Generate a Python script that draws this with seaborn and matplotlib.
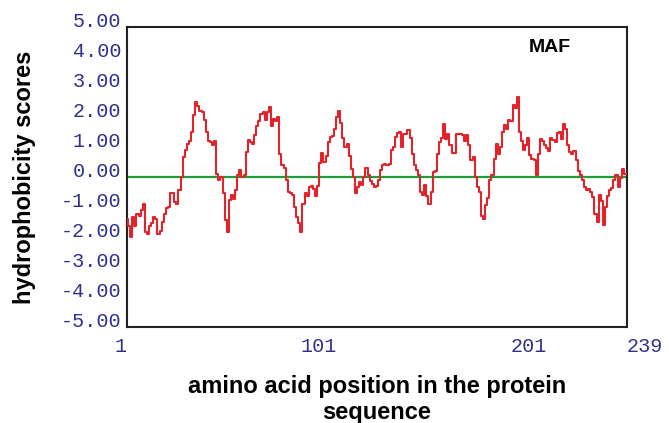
import numpy as np
import pandas as pd
import matplotlib
matplotlib.use("Agg")
import matplotlib.pyplot as plt
import seaborn as sns

# ---- data ----
positions = np.arange(1, 240)
scores = [
    -1.40, -1.65, -2.00, -1.35, -1.65, -1.25, -1.30, -1.10, -0.90, -1.85,
    -1.90, -1.65, -1.55, -1.35, -1.40, -1.90, -1.80, -1.50, -1.25, -1.05,
    -1.00, -0.55, -0.55, -0.85, -0.90, -0.45, 0.00, 0.65, 0.90, 1.10,
    1.20, 1.50, 2.05, 2.50, 2.35, 2.20, 2.15, 1.90, 1.50, 1.20,
    1.15, 1.05, 1.20, 0.10, -0.10, 0.00, -0.55, -1.45, -1.83, -0.78,
    -0.60, -0.72, -0.44, 0.05, 0.22, 0.00, 0.05, 0.83, 1.22, 1.15,
    1.10, 1.40, 1.70, 1.85, 2.10, 2.17, 1.90, 2.15, 2.33, 1.70,
    1.94, 1.85, 2.00, 0.78, 0.39, 0.30, -0.10, -0.50, -0.55, -0.60,
    -1.00, -1.35, -1.55, -1.85, -0.90, -0.55, -0.65, -0.35, -0.30, -0.40,
    -0.65, -0.30, 0.45, 0.80, 0.50, 0.70, 1.17, 1.33, 1.35, 1.60,
    2.00, 2.20, 1.80, 1.30, 1.00, 1.10, 0.70, 0.25, 0.00, -0.55,
    -0.35, -0.17, -0.28, 0.00, 0.30, 0.05, -0.12, -0.25, -0.33, -0.30,
    -0.10, 0.22, 0.39, 0.42, 0.39, 0.42, 0.90, 1.00, 1.33, 1.45,
    1.50, 1.00, 1.44, 1.44, 1.55, 1.30, 0.75, 0.40, 0.22, 0.05,
    -0.50, -0.60, -0.28, -0.65, -0.89, -0.50, 0.15, 0.20, 0.75, 1.15,
    1.30, 1.75, 1.25, 1.44, 1.05, 0.80, 0.80, 1.44, 1.44, 1.44,
    1.40, 1.20, 1.40, 1.05, 0.55, 0.67, 0.00, -0.33, -0.50, -1.30,
    -1.39, -0.94, -0.70, -0.11, 0.05, 0.60, 1.10, 0.78, 1.00, 1.50,
    1.72, 1.60, 1.90, 1.85, 2.40, 2.30, 2.65, 1.50, 1.20, 0.90,
    1.05, 1.30, 0.72, 0.60, 0.55, 0.05, 0.75, 1.25, 1.20, 1.05,
    0.95, 0.85, 1.30, 1.22, 1.15, 1.45, 1.50, 1.28, 1.78, 1.60,
    1.05, 0.83, 0.75, 0.85, 0.55, 0.20, 0.05, -0.10, -0.35, -0.44,
    -0.40, -0.50, -0.67, -1.22, -1.50, -0.60, -0.80, -1.60, -1.00, -0.65,
    -0.44, -0.38, -0.10, 0.05, -0.33, -0.05, 0.25, 0.11, 0.10,
]
y_ticks = [-5, -4, -3, -2, -1, 0, 1, 2, 3, 4, 5]
y_tick_labels = ["-5.00", "-4.00", "-3.00", "-2.00", "-1.00", "0.00",
                 "1.00", "2.00", "3.00", "4.00", "5.00"]
x_ticks = [1, 101, 201, 239]
x_tick_labels = ["1", "101", "201", "239"]
protein_name = "MAF"

df = pd.DataFrame({"position": positions, "score": scores})

sns.set_style("white")
plt.rcParams["font.family"] = ["Liberation Sans", "DejaVu Sans"]

W, H = 669, 423
fig = plt.figure(figsize=(W / 100, H / 100), dpi=100)
ax = fig.add_axes([127 / W, 1 - 327 / H, 500 / W, 300 / H])

ax.axhline(0, color="#1e9e3a", lw=1.6, zorder=2)
sns.lineplot(data=df, x="position", y="score", ax=ax, color="#e3232a",
             lw=1.5, estimator=None, drawstyle="steps-mid", zorder=3)

ax.set_xlim(1, 239)
ax.set_ylim(-5, 5)

tick_font = dict(family="Liberation Mono", size=14.5, color="#2f2f8c")
ax.set_yticks(y_ticks)
ax.set_yticklabels(y_tick_labels, **tick_font)
for lbl in ax.get_yticklabels():
    lbl.set_verticalalignment("baseline")
ax.set_xticks(x_ticks)
ax.set_xticklabels(x_tick_labels, **tick_font)
for lbl, t in zip(ax.get_xticklabels(), x_ticks):
    lbl.set_horizontalalignment("left" if t == 239 else "right")

ax.tick_params(axis="both", direction="in", length=6, width=1.3,
               color="#222222", pad=4)
ax.tick_params(axis="x", pad=7)
for s in ax.spines.values():
    s.set_color("#222222")
    s.set_linewidth(1.5)

ax.set_xlabel("amino acid position in the protein\nsequence",
              fontsize=17, fontweight="bold", color="black", labelpad=14,
              linespacing=1.15)
ax.set_ylabel("hydrophobicity scores", fontsize=17, fontweight="bold",
              color="black", labelpad=18)
ax.text(0.846, 0.93, protein_name, transform=ax.transAxes, fontsize=14,
        fontweight="bold", ha="center", va="center", color="black")

fig.savefig("out.png", dpi=100)
